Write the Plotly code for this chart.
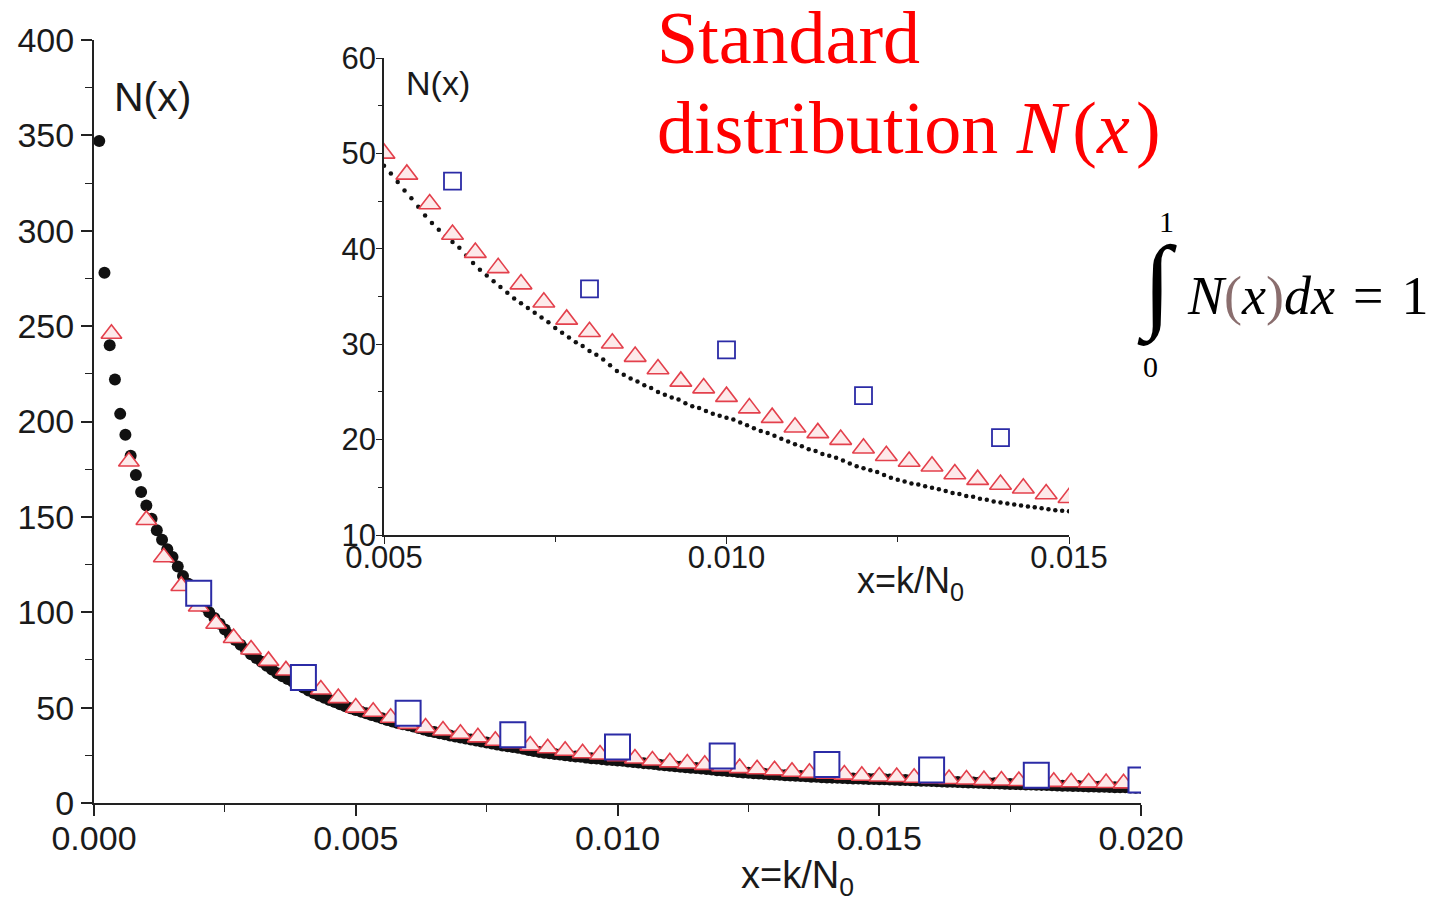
import plotly.graph_objects as go

W, H = 1439, 907

# ---- data ---------------------------------------------------------------
# black: simulated N(x), one point per k with N0 = 10000
black_k = list(range(1, 201))
black_n = [
    347, 278, 240, 222, 204, 193, 182, 172, 163, 156,
    149, 143, 138, 133, 129, 124, 119, 115, 111, 107,
    103, 100, 97, 94, 91, 88, 85.5, 83, 80.5, 78,
    76, 74, 72, 70, 68, 66.5, 65, 63.5, 62, 60.5,
    59, 57.7, 56.4, 55.2, 54, 52.9, 51.8, 50.7, 49.7, 48.7,
    47.9, 47.0, 46.1, 45.3, 44.4, 43.5, 42.7, 42.0, 41.3, 40.7,
    40.1, 39.3, 38.5, 37.8, 37.2, 36.6, 36.0, 35.4, 34.8, 34.3,
    33.8, 33.3, 32.8, 32.3, 31.7, 31.2, 30.7, 30.2, 29.8, 29.3,
    28.9, 28.4, 27.8, 27.2, 26.8, 26.4, 26.1, 25.7, 25.4, 25.0,
    24.7, 24.4, 24.2, 23.8, 23.5, 23.3, 23.0, 22.7, 22.5, 22.3,
    22.1, 21.8, 21.5, 21.2, 20.9, 20.7, 20.4, 20.1, 19.8, 19.5,
    19.3, 19.0, 18.8, 18.5, 18.3, 18.1, 17.8, 17.5, 17.2, 17.0,
    16.8, 16.6, 16.3, 16.0, 15.8, 15.6, 15.4, 15.3, 15.1, 14.95,
    14.8, 14.6, 14.4, 14.3, 14.1, 14.0, 13.8, 13.7, 13.5, 13.4,
    13.3, 13.2, 13.1, 13.0, 12.9, 12.8, 12.7, 12.6, 12.55, 12.5,
    12.4, 12.3, 12.2, 12.1, 12.0, 11.9, 11.8, 11.7, 11.6, 11.5,
    11.4, 11.3, 11.2, 11.1, 11.0, 10.9, 10.8, 10.7, 10.6, 10.5,
    10.4, 10.3, 10.2, 10.1, 10.0, 9.9, 9.8, 9.7, 9.65, 9.6,
    9.5, 9.4, 9.3, 9.2, 9.1, 9.0, 8.95, 8.9, 8.8, 8.7,
    8.6, 8.55, 8.5, 8.4, 8.3, 8.25, 8.2, 8.1, 8.05, 8.0,
]
black_x = [k / 10000 for k in black_k]

# red triangles: N0 = 3000
tri_k = list(range(1, 61))
tri_n = [
    246, 179, 148.4, 128.8, 113.8, 103, 94, 86.5, 80.5, 74.5,
    69.5, 65, 59.5, 55, 50, 47.8, 44.7, 41.5, 39.6, 38.0,
    36.3, 34.4, 32.6, 31.3, 30.1, 28.7, 27.4, 26.1, 25.4, 24.5,
    23.3, 22.3, 21.3, 20.7, 20.0, 19.1, 18.3, 17.7, 17.2, 16.4,
    15.8, 15.3, 14.9, 14.3, 13.9, 13.6, 13.2, 12.9, 12.6, 12.3,
    12.0, 11.8, 11.5, 11.3, 11.1, 10.9, 10.7, 10.5, 10.3, 10.1,
]
tri_x = [k / 3000 for k in tri_k]

# blue squares: N0 = 500
sq_k = list(range(1, 11))
sq_n = [110, 65.8, 47.1, 35.8, 29.4, 24.6, 20.2, 17.3, 14.5, 12.0]
sq_x = [k / 500 for k in sq_k]

main_xticks = [0.000, 0.005, 0.010, 0.015, 0.020]
main_xlabels = ["0.000", "0.005", "0.010", "0.015", "0.020"]
main_yticks = [0, 50, 100, 150, 200, 250, 300, 350, 400]
inset_xticks = [0.005, 0.010, 0.015]
inset_xlabels = ["0.005", "0.010", "0.015"]
inset_yticks = [10, 20, 30, 40, 50, 60]

# ---- styles -------------------------------------------------------------
BLACK = "#111111"
RED = "#e3404c"
TRI_FILL = "#fdeaea"
BLUE = "#2b2ba6"
SANS = "Arial, Liberation Sans, sans-serif"
SERIF = "Liberation Serif, Times New Roman, serif"


def px(x):
    return x / W


def py(y):
    return 1 - y / H


fig = go.Figure()

# main panel
fig.add_trace(go.Scatter(x=black_x, y=black_n, mode="markers",
                         marker=dict(symbol="circle", size=12, color=BLACK),
                         xaxis="x", yaxis="y"))
fig.add_trace(go.Scatter(x=tri_x, y=tri_n, mode="markers",
                         marker=dict(symbol="triangle-up", size=18, color=TRI_FILL,
                                     line=dict(color=RED, width=1.6)),
                         xaxis="x", yaxis="y"))
fig.add_trace(go.Scatter(x=sq_x, y=sq_n, mode="markers",
                         marker=dict(symbol="square", size=25, color="white",
                                     line=dict(color=BLUE, width=2)),
                         xaxis="x", yaxis="y"))

# inset panel
fig.add_trace(go.Scatter(x=black_x, y=black_n, mode="markers",
                         marker=dict(symbol="circle", size=4.5, color=BLACK),
                         xaxis="x2", yaxis="y2"))
fig.add_trace(go.Scatter(x=tri_x, y=tri_n, mode="markers",
                         marker=dict(symbol="triangle-up", size=19, color=TRI_FILL,
                                     line=dict(color=RED, width=1.6)),
                         xaxis="x2", yaxis="y2"))
fig.add_trace(go.Scatter(x=sq_x, y=sq_n, mode="markers",
                         marker=dict(symbol="square", size=17, color="white",
                                     line=dict(color=BLUE, width=1.8)),
                         xaxis="x2", yaxis="y2"))

axis_common = dict(showline=True, linecolor="#222", showgrid=False, zeroline=False,
                   ticks="outside", tickcolor="#222", fixedrange=True,
                   automargin=False)

fig.update_layout(
    width=W, height=H,
    margin=dict(l=0, r=0, t=0, b=0, autoexpand=False),
    paper_bgcolor="white", plot_bgcolor="rgba(0,0,0,0)",
    showlegend=False,
    xaxis=dict(**axis_common, domain=[px(94), px(1141)], range=[0, 0.02],
               linewidth=2, ticklen=11, tickwidth=1.6,
               tickvals=main_xticks, ticktext=main_xlabels,
               tickfont=dict(family=SANS, size=34, color="#1a1a1a"),
               ticklabelstandoff=-7,
               minor=dict(dtick=0.0025, tick0=0, ticks="outside", ticklen=7,
                          tickwidth=1.3, tickcolor="#222"),
               anchor="y"),
    yaxis=dict(**axis_common, domain=[py(803), py(40)], range=[0, 400],
               linewidth=2, ticklen=11, tickwidth=1.6,
               tickvals=main_yticks,
               tickfont=dict(family=SANS, size=34, color="#1a1a1a"),
               ticklabelstandoff=0,
               minor=dict(dtick=25, tick0=0, ticks="outside", ticklen=7,
                          tickwidth=1.3, tickcolor="#222"),
               anchor="x"),
    xaxis2=dict(**axis_common, domain=[px(384), px(1069)], range=[0.005, 0.015],
                linewidth=1.6, ticklen=7, tickwidth=1.4,
                tickvals=inset_xticks, ticktext=inset_xlabels,
                tickfont=dict(family=SANS, size=31, color="#1a1a1a"),
                ticklabelstandoff=-13,
                minor=dict(dtick=0.0025, tick0=0.005, ticks="outside", ticklen=5,
                           tickwidth=1.2, tickcolor="#222"),
                anchor="y2"),
    yaxis2=dict(**axis_common, domain=[py(535), py(58)], range=[10, 60],
                linewidth=1.6, ticklen=6, tickwidth=1.4,
                tickvals=inset_yticks,
                tickfont=dict(family=SANS, size=31, color="#1a1a1a"),
                ticklabelstandoff=-6,
                minor=dict(dtick=5, tick0=10, ticks="outside", ticklen=4,
                           tickwidth=1.2, tickcolor="#222"),
                anchor="x2"),
)


def note(text, x, y, size, family=SANS, color="#1a1a1a", xanchor="center",
         yanchor="middle"):
    fig.add_annotation(text=text, x=px(x), y=py(y), xref="paper", yref="paper",
                       showarrow=False, xanchor=xanchor, yanchor=yanchor,
                       font=dict(family=family, size=size, color=color))


# axis labels
note("N(x)", 152, 97, 41)
note("x=k/N<sub>0</sub>", 797, 878, 38)
note("N(x)", 438, 83, 34)
note("x=k/N<sub>0</sub>", 910, 583, 36)

# headline
note("Standard", 655, 38, 74, family=SERIF, color="#ff0000", xanchor="left")
note("distribution <i>N</i>\u200a(<i>x</i>\u200a)", 655, 128, 74, family=SERIF,
     color="#ff0000", xanchor="left")

# normalisation condition
note("1", 1166, 222, 30, family=SERIF, color="black")
note("\u222b", 1157, 285, 104, family=SERIF, color="black")
note("0", 1150, 366, 30, family=SERIF, color="black")
note("<i>N</i><span style='color:#8a6e6e'>(</span><i>x</i>"
     "<span style='color:#8a6e6e'>)</span><i>dx</i> \u200a=\u200a 1",
     1185, 296, 54, family=SERIF, color="black", xanchor="left")

fig.write_html("out.html")
